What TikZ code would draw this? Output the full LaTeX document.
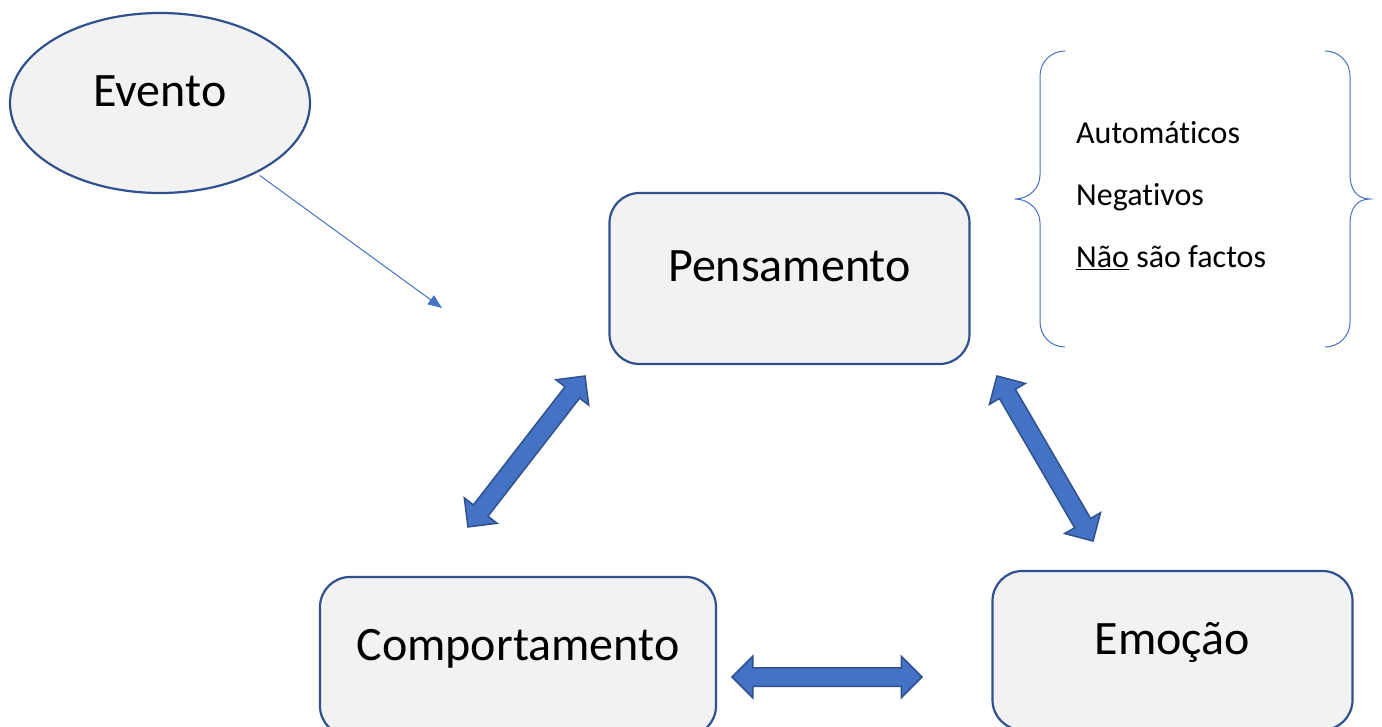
\documentclass[tikz,border=0pt]{standalone}
\usepackage{fontspec}
\setmainfont{Carlito}[Ligatures=NoCommon]
\usepackage{tikz}
\usetikzlibrary{positioning, shapes.geometric, shapes.arrows, arrows.meta}
\usetikzlibrary{calc}

\definecolor{boxline}{HTML}{2F528F}
\definecolor{boxfill}{HTML}{F2F2F2}
\definecolor{arrowblue}{HTML}{4472C4}

\tikzset{
    bigtext/.style={font=\fontsize{48}{58}\selectfont, text height=30pt, text depth=23pt},
    smalltext/.style={font=\fontsize{32}{38}\selectfont, anchor=base west, inner sep=0pt},
    stage/.style={draw=boxline, fill=boxfill, line width=2.2pt, rounded corners=30pt, inner sep=0pt, bigtext},
    twoway/.style={double arrow, draw=boxline, fill=arrowblue, line width=1.5pt, inner sep=0pt,
        text height=17pt, text depth=0pt,
        minimum height=191pt, minimum width=40pt, double arrow head extend=11.5pt},
    bracket/.style={arrowblue, line width=1pt}
}

\begin{document}
\begin{tikzpicture}[x=1pt, y=-1pt]
    \useasboundingbox (0,0) rectangle (1382,727);

    \node[ellipse, draw=boxline, fill=boxfill, line width=2.2pt, inner sep=0pt,
        minimum width=300pt, minimum height=180pt, bigtext] (ev) at (160,103) {Evento};
    \node[stage, minimum width=360pt, minimum height=171pt] (pens) at (789.5,278.5) {Pensamento};
    \node[stage, minimum width=396pt, minimum height=159pt] (comp) at (518,656.5) {Comportamento};
    \node[stage, minimum width=360pt, minimum height=159pt] (emo) at (1172.5,650.5) {Emoção};

    % evento -> pensamento
    \coordinate (ev-end) at (442,308);
    \draw[arrowblue, line width=1pt, -{Triangle[length=14pt, width=11pt]}, shorten <=4pt] (ev.-36) -- (ev-end);

    % setas duplas
    \node[twoway, rotate=52.2] (pens-comp) at (526.5,451.5) {};
    \node[twoway, rotate=-59.8] (pens-emo) at (1045,458.5) {};
    \node[twoway, minimum height=190pt] (comp-emo) at (827,677) {};

    % pensamentos
    \node[smalltext] (auto) at (1076,144) {Automáticos};
    \node[smalltext] (neg) at (1076,206) {Negativos};
    \node[smalltext] (nao) at (1076,268) {\underline{Não} são factos};

    \draw[bracket] (1065,51) .. controls (1051,51) and (1040,62) .. (1040,76) -- (1040,175)
        .. controls (1040,188) and (1029,199) .. (1015,199)
        .. controls (1029,199) and (1040,210) .. (1040,223) -- (1040,322)
        .. controls (1040,336) and (1051,347) .. (1065,347);
    \draw[bracket] (1325,51) .. controls (1339,51) and (1350,62) .. (1350,76) -- (1350,175)
        .. controls (1350,188) and (1356,199) .. (1370,199)
        .. controls (1356,199) and (1350,210) .. (1350,223) -- (1350,322)
        .. controls (1350,336) and (1339,347) .. (1325,347);
\end{tikzpicture}
\end{document}
